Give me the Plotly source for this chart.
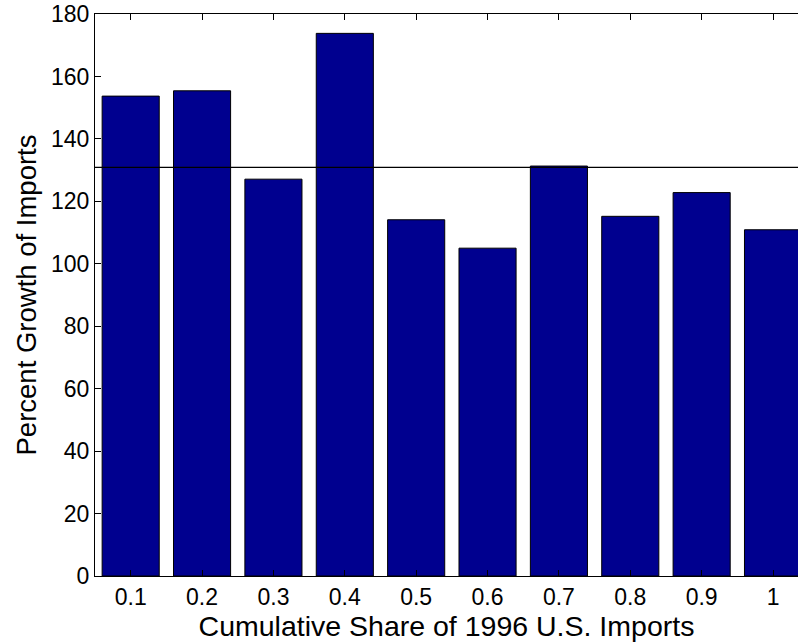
import plotly.graph_objects as go

categories = ["0.1", "0.2", "0.3", "0.4", "0.5", "0.6", "0.7", "0.8", "0.9", "1"]
positions = [1, 2, 3, 4, 5, 6, 7, 8, 9, 10]
growth = [153.7, 155.4, 127.1, 173.8, 114.1, 105.0, 131.3, 115.2, 122.8, 110.9]
average_growth = 130.9
y_ticks = [0, 20, 40, 60, 80, 100, 120, 140, 160, 180]

FONT = "Liberation Sans, Arial, Helvetica, sans-serif"

fig = go.Figure()
fig.add_trace(go.Bar(
    x=positions, y=growth, width=0.8,
    marker=dict(color="#00008F", line=dict(color="black", width=1)),
    showlegend=False,
))

fig.add_shape(type="line", xref="paper", yref="y", x0=0, x1=1,
              y0=average_growth, y1=average_growth,
              line=dict(color="black", width=1.2))

fig.update_layout(
    width=798, height=643,
    margin=dict(l=95, r=0, t=14, b=67),
    paper_bgcolor="white", plot_bgcolor="white",
    font=dict(family=FONT, size=23, color="black"),
    bargap=0.2,
)
fig.update_xaxes(
    range=[0.5, 10.35], tickmode="array", tickvals=positions, ticktext=categories,
    ticks="inside", ticklen=6, tickcolor="black", showline=True, linecolor="black",
    linewidth=1.2, mirror="allticks", showgrid=False, zeroline=False,
    tickfont=dict(size=23),
    title=dict(text="Cumulative Share of 1996 U.S. Imports", font=dict(size=28.5), standoff=1),
)
fig.update_yaxes(
    range=[0, 180], tickmode="array", tickvals=y_ticks,
    ticks="inside", ticklen=6, tickcolor="black", showline=True, linecolor="black",
    linewidth=1.2, mirror=False, showgrid=False, zeroline=False,
    tickfont=dict(size=23),
    title=dict(text="Percent Growth of Imports", font=dict(size=27.5), standoff=6),
)

fig.write_html("out.html")
